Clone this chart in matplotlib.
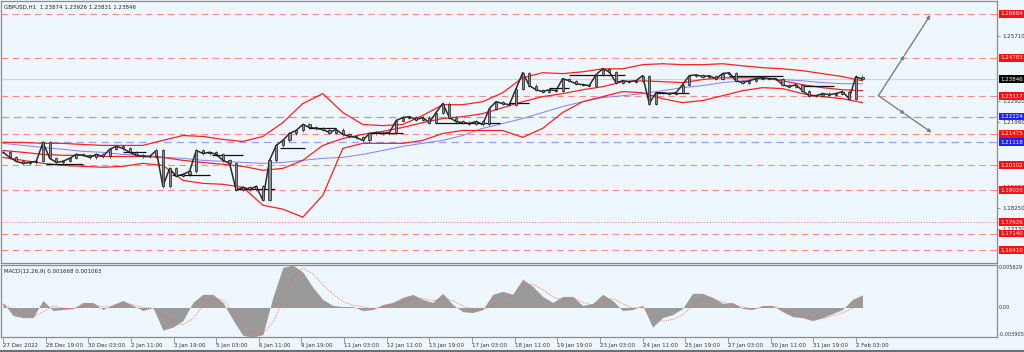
import numpy as np
import matplotlib.pyplot as plt
from matplotlib.transforms import blended_transform_factory

# ---- data ----
title = "GBPUSD,H1  1.23874 1.23926 1.23831 1.23846"
macd_title = "MACD(12,26,9) 0.001668 0.001063"

close_step = 5  # bars between samples
closes = [1.2067, 1.2045, 1.2028, 1.2019, 1.2023, 1.2028, 1.2110, 1.2041, 1.2023, 1.2028,
          1.2041, 1.2058, 1.2054, 1.2045, 1.2058, 1.2049, 1.2080, 1.2093, 1.2084, 1.2067,
          1.2054, 1.2049, 1.2049, 1.2075, 1.1919, 1.1997, 1.1963, 1.1971, 1.1984, 1.2075,
          1.2062, 1.2067, 1.2058, 1.2032, 1.2019, 1.1902, 1.1915, 1.1906, 1.1919, 1.1859,
          1.2032, 1.2097, 1.2119, 1.2149, 1.2162, 1.2188, 1.2175, 1.2171, 1.2166, 1.2153,
          1.2166, 1.2145, 1.2136, 1.2132, 1.2119, 1.2149, 1.2153, 1.2149, 1.2153, 1.2205,
          1.2218, 1.2222, 1.2209, 1.2218, 1.2196, 1.2240, 1.2279, 1.2218, 1.2201, 1.2196,
          1.2192, 1.2201, 1.2188, 1.2257, 1.2287, 1.2279, 1.2274, 1.2344, 1.2413, 1.2357,
          1.2339, 1.2331, 1.2339, 1.2335, 1.2387, 1.2378, 1.2365, 1.2361, 1.2357, 1.2404,
          1.2430, 1.2417, 1.2370, 1.2378, 1.2374, 1.2378, 1.2400, 1.2279, 1.2326, 1.2326,
          1.2322, 1.2326, 1.2361, 1.2400, 1.2404, 1.2396, 1.2400, 1.2387, 1.2409, 1.2413,
          1.2378, 1.2370, 1.2378, 1.2387, 1.2391, 1.2387, 1.2387, 1.2361, 1.2352, 1.2361,
          1.2335, 1.2313, 1.2313, 1.2322, 1.2318, 1.2322, 1.2331, 1.2300, 1.2396, 1.2385]

band_step = 15
bb_upper = [1.2110, 1.2110, 1.2106, 1.2106, 1.2101, 1.2097, 1.2097, 1.2097, 1.2119, 1.2140,
            1.2136, 1.2123, 1.2114, 1.2136, 1.2196, 1.2279, 1.2322, 1.2240, 1.2188, 1.2183,
            1.2188, 1.2227, 1.2274, 1.2274, 1.2287, 1.2326, 1.2391, 1.2413, 1.2409, 1.2417,
            1.2430, 1.2430, 1.2448, 1.2452, 1.2448, 1.2448, 1.2452, 1.2443, 1.2435, 1.2430,
            1.2422, 1.2409, 1.2396, 1.2378]
bb_mid = [1.2075, 1.2067, 1.2058, 1.2054, 1.2054, 1.2049, 1.2049, 1.2049, 1.2045, 1.2032,
          1.2023, 1.2015, 1.2006, 1.1989, 1.1997, 1.2032, 1.2097, 1.2127, 1.2145, 1.2158,
          1.2175, 1.2196, 1.2214, 1.2222, 1.2235, 1.2261, 1.2287, 1.2309, 1.2322, 1.2339,
          1.2352, 1.2374, 1.2378, 1.2374, 1.2370, 1.2383, 1.2391, 1.2391, 1.2391, 1.2378,
          1.2361, 1.2348, 1.2339, 1.2335]
bb_lower = [1.2045, 1.2032, 1.2019, 1.2010, 1.2006, 1.2002, 1.2006, 1.2019, 1.2010, 1.1945,
            1.1932, 1.1928, 1.1915, 1.1837, 1.1820, 1.1785, 1.1880, 1.2084, 1.2106, 1.2106,
            1.2106, 1.2119, 1.2149, 1.2162, 1.2162, 1.2162, 1.2132, 1.2171, 1.2240, 1.2287,
            1.2309, 1.2331, 1.2326, 1.2300, 1.2283, 1.2292, 1.2313, 1.2335, 1.2348, 1.2344,
            1.2322, 1.2309, 1.2300, 1.2283]
ma_slow = [1.2106, 1.2097, 1.2088, 1.2080, 1.2071, 1.2067, 1.2058, 1.2054, 1.2045, 1.2041,
           1.2032, 1.2028, 1.2023, 1.2019, 1.2023, 1.2032, 1.2041, 1.2045, 1.2058, 1.2075,
           1.2093, 1.2106, 1.2119, 1.2140, 1.2171, 1.2192, 1.2214, 1.2240, 1.2266, 1.2287,
           1.2305, 1.2313, 1.2322, 1.2335, 1.2348, 1.2357, 1.2370, 1.2378, 1.2387, 1.2383,
           1.2378, 1.2370, 1.2365, 1.2365]

# daily open style segments: start bar, end bar, price
seg_start = [32, 90, 127, 157, 175, 208, 230, 277, 325, 380, 410, 425, 490, 545, 600]
seg_end = [60, 107, 155, 180, 204, 227, 250, 300, 373, 395, 425, 467, 515, 585, 624]
seg_price = [1.2015, 1.2067, 1.1967, 1.2054, 1.1906, 1.2084, 1.2171, 1.2149, 1.2196,
             1.2283, 1.2348, 1.2404, 1.2326, 1.2400, 1.2357]

red_levels = [1.26684, 1.24783, 1.23117, 1.21475, 1.20102, 1.19020, 1.17140, 1.16410]
dotted_levels = [1.17626]
blue_levels = [1.22224, 1.21118]
last_price = 1.23846
price_ticks = [1.25710, 1.22920, 1.21980, 1.19180, 1.18250, 1.17330]

# projection arrows (bar, price)
proj_start = (657, 1.2313)
proj_up = (696, 1.2664)
proj_down = (697, 1.2153)

macd_step = 7.5
macd_hist = [0.00067, -0.00107, -0.00134, -0.00134, 0.00094, -0.00040, -0.00027, -0.00013, 0.00067, 0.00067,
             -0.00027, 0.00040, 0.00094, 0.00027, -0.00040, 0.0, -0.00300, -0.00260, -0.00174, 0.00067,
             0.00174, 0.00174, 0.00067, -0.00161, -0.00370, -0.00390, -0.00360, 0.00134, 0.00530, 0.00563,
             0.00469, 0.00268, 0.00107, 0.00027, 0.00013, 0.00013, -0.00040, -0.00027, 0.00040, 0.00067,
             0.00134, 0.00174, 0.00107, 0.00067, 0.00188, 0.00040, -0.00054, -0.00067, -0.00027, 0.00174,
             0.00214, 0.00174, 0.00375, 0.00281, 0.00147, 0.00067, 0.00147, 0.00147, 0.00027, 0.00054,
             0.00174, 0.00094, -0.00040, -0.00027, 0.00027, -0.00260, -0.00134, -0.00094, -0.00013, 0.00188,
             0.00188, 0.00134, 0.00054, 0.00067, -0.00013, -0.00027, 0.00027, 0.00027, -0.00054, -0.00121,
             -0.00134, -0.00174, -0.00134, -0.00080, -0.00027, 0.00107, 0.00168]
macd_signal = [0.0004, -0.0002, -0.0009, -0.0012, -0.0006, 0.0002, -0.0001, -0.0002, 0.0002, 0.0004,
               0.0001, 0.0001, 0.0005, 0.0004, 0.0000, -0.0001, -0.0010, -0.0020, -0.0023, -0.0015,
               0.0002, 0.0012, 0.0010, -0.0005, -0.0020, -0.0032, -0.0035, -0.0020, 0.0010, 0.0040,
               0.0052, 0.0045, 0.0030, 0.0018, 0.0008, 0.0003, 0.0001, -0.0002, 0.0001, 0.0004,
               0.0008, 0.0012, 0.0012, 0.0009, 0.0012, 0.0009, 0.0002, -0.0003, -0.0003, 0.0003,
               0.0012, 0.0016, 0.0028, 0.0031, 0.0024, 0.0014, 0.0010, 0.0013, 0.0007, 0.0003,
               0.0009, 0.0012, 0.0005, -0.0001, 0.0001, -0.0010, -0.0018, -0.0016, -0.0010, 0.0002,
               0.0012, 0.0012, 0.0007, 0.0004, 0.0001, -0.0002, 0.0000, 0.0002, -0.0002, -0.0008,
               -0.0012, -0.0015, -0.0015, -0.0011, -0.0007, -0.0001, 0.001063]
macd_max, macd_min = 0.005629, -0.003905

date_labels = ['27 Dec 2022', '28 Dec 19:00', '30 Dec 03:00', '2 Jan 11:00', '3 Jan 19:00',
               '5 Jan 03:00', '6 Jan 11:00', '9 Jan 19:00', '11 Jan 03:00', '12 Jan 11:00',
               '13 Jan 19:00', '17 Jan 03:00', '18 Jan 11:00', '19 Jan 19:00', '23 Jan 03:00',
               '24 Jan 11:00', '25 Jan 19:00', '27 Jan 03:00', '30 Jan 11:00', '31 Jan 19:00',
               '2 Feb 03:00']
date_step = 32

# ---- drawing ----
bg = '#EEF6FE'
W, H = 1024, 352
fig = plt.figure(figsize=(W / 100, H / 100), dpi=100, facecolor=bg)
ax = fig.add_axes([0.001, 1 - 263 / H, 996 / W, 262 / H], facecolor=bg)
ax2 = fig.add_axes([0.001, 1 - 337 / H, 996 / W, 72 / H], facecolor=bg, sharex=ax)

for a in (ax, ax2):
    for s in a.spines.values():
        s.set_color('#8c8c8c')
        s.set_linewidth(0.9)

xmax = 746
ax.set_xlim(-1.5, xmax)
ax.set_ylim(1.15859, 1.27247)

# horizontal levels
ax.axhline(last_price, color='#d4d4d4', lw=0.8, zorder=1)
for lv in red_levels:
    ax.axhline(lv, color='#FF8A8A', lw=0.8, dashes=(6, 4), zorder=1)
for lv in dotted_levels:
    ax.axhline(lv, color='#FF8A8A', lw=0.8, dashes=(1, 1.5), zorder=1)
for lv in blue_levels:
    ax.axhline(lv, color='#9C9CFF', lw=0.9, dashes=(6, 4), zorder=1)

# bands and slow MA
xb = np.arange(len(bb_upper)) * band_step
ax.plot(xb, ma_slow, color='#8080FF', lw=0.7, zorder=2)
for band in (bb_upper, bb_mid, bb_lower):
    ax.plot(xb, band, color='#FF2020', lw=0.9, zorder=3)

# candles
xc = np.arange(len(closes)) * close_step
opens = [closes[0]] + closes[:-1]
ax.plot(xc, closes, color='#2a2a2a', lw=1.1, zorder=4)
for x, o, c in zip(xc, opens, closes):
    lo, hi = min(o, c), max(o, c)
    ax.vlines(x, lo - 0.0005, hi + 0.0005, color='#2a2a2a', lw=0.5, zorder=4)
    ax.bar(x, hi - lo, bottom=lo, width=1.6, color='#8a8a8a', edgecolor='#1a1a1a', lw=0.5, zorder=5)

ax.hlines(seg_price, seg_start, seg_end, color='#111111', lw=0.9, zorder=4)

# projection arrows
for end in (proj_up, proj_down):
    mid = ((proj_start[0] + end[0]) / 2, (proj_start[1] + end[1]) / 2)
    for a0, a1 in ((proj_start, mid), (mid, end)):
        ax.annotate('', xy=a1, xytext=a0,
                    arrowprops=dict(arrowstyle='-|>', color='#808080', lw=1.0,
                                    mutation_scale=5, shrinkA=0, shrinkB=0))

# right price axis
ax.yaxis.tick_right()
ax.set_yticks(price_ticks)
ax.set_yticklabels([f'{v:.5f}' for v in price_ticks])
ax.tick_params(axis='y', direction='out', length=2, width=0.6, pad=1.5,
               labelsize=4, colors='#8c8c8c', labelcolor='#333333')
ax.tick_params(axis='x', bottom=False, labelbottom=False)

trans = blended_transform_factory(ax.transAxes, ax.transData)
def price_box(val, color):
    ax.text(1.0035, val, f'{val:.5f}', transform=trans, fontsize=4, color='white',
            va='center', ha='left', clip_on=False, zorder=10,
            bbox=dict(boxstyle='square,pad=0.25', fc=color, ec='none'))

for lv in red_levels + dotted_levels:
    price_box(lv, '#FF1010')
for lv in blue_levels:
    price_box(lv, '#2020FF')
price_box(last_price, '#000000')

ax.text(0.003, 0.985, title, transform=ax.transAxes, fontsize=4, color='#222222',
        va='top', ha='left')

# MACD panel
xm = np.arange(len(macd_hist)) * macd_step
ax2.fill_between(xm, 0, macd_hist, color='#9a9a9a', lw=0, zorder=2)
ax2.plot(xm, macd_signal, color='#FF6060', lw=0.6, ls=(0, (1, 1.2)), zorder=3)
ax2.set_ylim(macd_min, macd_max)
ax2.yaxis.tick_right()
ax2.set_yticks([macd_max, 0, macd_min])
ax2.set_yticklabels([f'{macd_max:.6f}', '0.00', f'{macd_min:.6f}'])
ax2.tick_params(axis='y', length=0, pad=1.5, labelsize=3.6, labelcolor='#333333')
for lab, va in zip(ax2.get_yticklabels(), ['top', 'center', 'bottom']):
    lab.set_va(va)
ax2.text(0.003, 0.95, macd_title, transform=ax2.transAxes, fontsize=4, color='#222222',
         va='top', ha='left')

xt = np.arange(len(date_labels)) * date_step
ax2.set_xticks(xt)
ax2.set_xticklabels(date_labels)
ax2.tick_params(axis='x', direction='out', length=4, width=0.6, pad=0.5,
                labelsize=4, colors='#8c8c8c', labelcolor='#333333')
for lab in ax2.get_xticklabels():
    lab.set_ha('left')

# bottom border
fig.add_artist(plt.Line2D([0, 1], [1.5 / H, 1.5 / H], color='#707070', lw=1.5))

fig.savefig('out.png', dpi=100, facecolor=bg)
